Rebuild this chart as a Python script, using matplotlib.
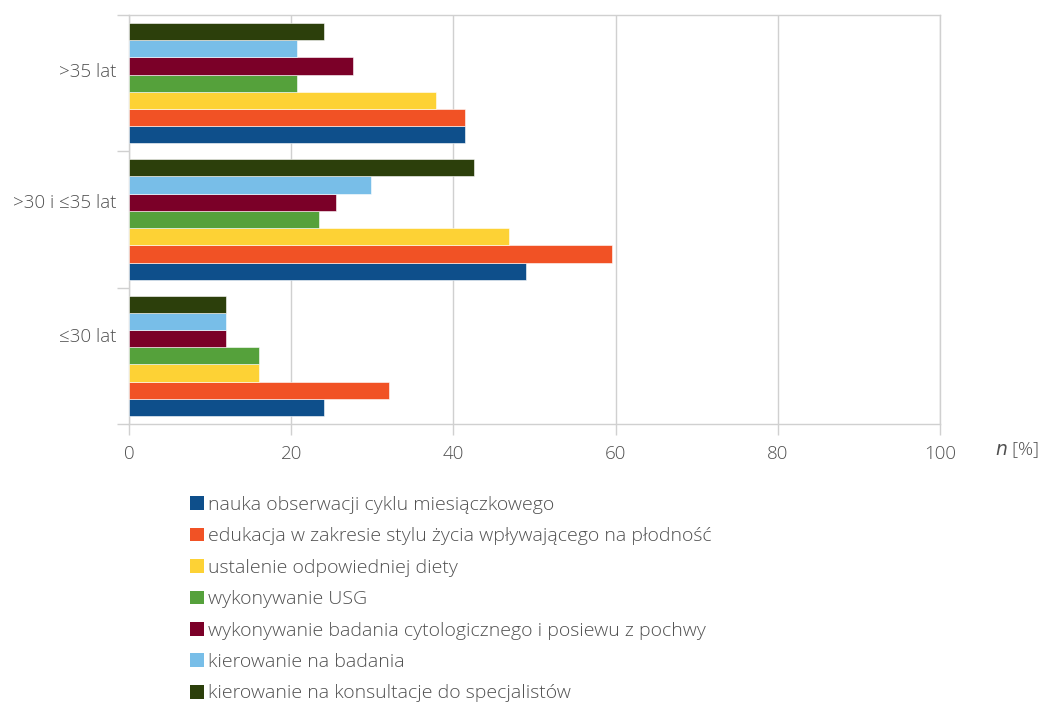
import matplotlib
matplotlib.use("Agg")
import matplotlib.pyplot as plt
from matplotlib.patches import Patch
import numpy as np

groups = ["≤30 lat", ">30 i ≤35 lat", ">35 lat"]
series = [
    "nauka obserwacji cyklu miesiączkowego",
    "edukacja w zakresie stylu życia wpływającego na płodność",
    "ustalenie odpowiedniej diety",
    "wykonywanie USG",
    "wykonywanie badania cytologicznego i posiewu z pochwy",
    "kierowanie na badania",
    "kierowanie na konsultacje do specjalistów",
]
# percentage per series, ordered as groups
nauka = [24.0, 48.9, 41.4]
edukacja = [32.0, 59.6, 41.4]
dieta = [16.0, 46.8, 37.9]
usg = [16.0, 23.4, 20.7]
cytologia = [12.0, 25.5, 27.6]
badania = [12.0, 29.8, 20.7]
konsultacje = [12.0, 42.6, 24.1]
values = [nauka, edukacja, dieta, usg, cytologia, badania, konsultacje]
xticks = [0, 20, 40, 60, 80, 100]

colors = ["#0E4F8B", "#F15225", "#FDD235", "#55A13B", "#7B0028", "#78BEE8", "#2C3F0B"]
grid_c = "#D0D0D0"
text_c = "#505050"
fs = 13.5
fs_leg = 14
plt.rcParams["font.family"] = ["Open Sans", "DejaVu Sans"]
plt.rcParams["font.weight"] = "light"

fig = plt.figure(figsize=(10.38, 7.02), dpi=100)
ax = fig.add_axes([129 / 1038, 1 - 424 / 702, (940 - 129) / 1038, (424 - 15) / 702])

n_series = len(series)
group_span = 0.885
bar_h = group_span / n_series
y = np.arange(len(groups))
for i, (vals, c) in enumerate(zip(values, colors)):
    offs = -group_span / 2 + bar_h * (i + 0.5)
    ax.barh(y + offs, vals, height=bar_h, color=c, edgecolor="white",
            linewidth=0.4, zorder=3, label=series[i])

ax.set_xlim(0, 100)
ax.set_ylim(-0.5, len(groups) - 0.5)
ax.set_xticks(xticks)
ax.set_xticklabels([str(v) for v in xticks])
ax.xaxis.grid(True, color=grid_c, linewidth=1.0, zorder=0)
ax.tick_params(axis="x", length=8, width=1.0, colors=grid_c, labelcolor=text_c,
               labelsize=fs, pad=7)

# category boundaries as minor ticks, labels placed beside each group
ax.set_yticks(np.arange(-0.5, len(groups), 1.0), minor=True)
ax.set_yticks([])
ax.tick_params(axis="y", which="minor", length=9, width=1.0, color=grid_c)
label_shift = [0.14, 0.12, 0.08]
for yi, g, s in zip(y, groups, label_shift):
    ax.text(-0.016, yi + s, g, transform=ax.get_yaxis_transform(),
            ha="right", va="center", fontsize=fs, color=text_c)

for sp in ax.spines.values():
    sp.set_color(grid_c)
    sp.set_linewidth(1.0)

fig.text(995 / 1038, 1 - 450 / 702, r"$\it{n}$ [%]", fontsize=fs, color=text_c,
         ha="left", va="center")

handles = [Patch(facecolor=c, edgecolor="none") for c in colors]
leg = fig.legend(handles, series, loc="upper left",
                 bbox_to_anchor=(190 / 1038, 1 - 496 / 702),
                 frameon=False, fontsize=fs_leg, handlelength=0.7, handleheight=0.7,
                 handletextpad=0.2, labelspacing=0.69, borderaxespad=0, borderpad=0)
for t in leg.get_texts():
    t.set_color(text_c)

fig.savefig("out.png", dpi=100)
